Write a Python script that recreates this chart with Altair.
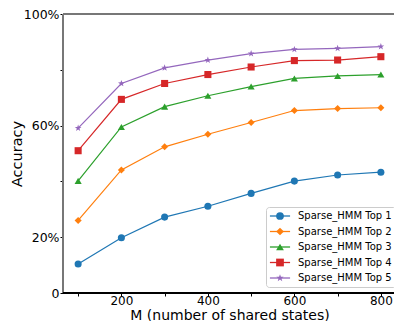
import altair as alt
import pandas as pd

m_values = [100, 200, 300, 400, 500, 600, 700, 800]
series_names = ["Sparse_HMM Top 1", "Sparse_HMM Top 2", "Sparse_HMM Top 3",
                "Sparse_HMM Top 4", "Sparse_HMM Top 5"]
top1 = [10.4, 19.8, 27.2, 31.1, 35.7, 40.1, 42.3, 43.3]
top2 = [26.0, 44.1, 52.4, 56.9, 61.1, 65.4, 66.1, 66.4]
top3 = [40.2, 59.5, 66.8, 70.7, 74.0, 76.9, 77.8, 78.3]
top4 = [51.0, 69.4, 75.1, 78.3, 81.0, 83.3, 83.5, 84.7]
top5 = [59.1, 75.1, 80.7, 83.5, 85.8, 87.3, 87.7, 88.3]
colors = ["#1f77b4", "#ff7f0e", "#2ca02c", "#d62728", "#9467bd"]
shapes = ["circle", "diamond", "triangle-up", "square",
          "M0,-1L0.235,-0.324L0.951,-0.309L0.38,0.124L0.588,0.809L0,0.4L-0.588,0.809L-0.38,0.124L-0.951,-0.309L-0.235,-0.324Z"]

rows = []
for name, vals in zip(series_names, [top1, top2, top3, top4, top5]):
    for m, v in zip(m_values, vals):
        rows.append({"M": m, "acc": v, "series": name})
df = pd.DataFrame(rows)

W, H = 333, 279
font = "DejaVu Sans"
x = alt.X("M:Q", scale=alt.Scale(domain=[65, 835], nice=False, zero=False),
          axis=alt.Axis(values=m_values, title="M (number of shared states)",
                        labelExpr="datum.value % 200 == 0 ? datum.label : ''",
                        grid=False, domain=False, tickSize=3, tickColor="#000",
                        labelFontSize=12, labelFont=font, labelColor="#000",
                        titleFontSize=14, titleFont=font, titleFontWeight="normal",
                        titleColor="#000", titleBaseline="alphabetic", titleY=26,
                        labelPadding=-0.5))
y = alt.Y("acc:Q", scale=alt.Scale(domain=[0, 100], nice=False),
          axis=alt.Axis(values=[0, 20, 40, 60, 80, 100], title="Accuracy",
                        labelExpr="datum.value == 0 ? '0' : (datum.value == 20 || datum.value == 60 || datum.value == 100) ? datum.value + '%' : ''",
                        grid=False, domain=False, tickSize=3, tickColor="#000",
                        labelFontSize=12.5, labelFont=font, labelColor="#000",
                        titleFontSize=14.5, titleFont=font, titleFontWeight="normal",
                        titleColor="#000", titleBaseline="middle", titleX=-46,
                        labelPadding=1))

common_legend = dict(title=None, orient="none", legendX=203, legendY=193,
                     labelFont=font, labelFontSize=10, padding=4,
                     rowPadding=5.5, symbolSize=60, symbolOffset=5, labelOffset=13)

color_lines = alt.Color("series:N", scale=alt.Scale(domain=series_names, range=colors),
                        legend=alt.Legend(symbolType="M-2.6,0L2.6,0", symbolStrokeWidth=1.3,
                                          symbolFillColor="transparent",
                                          labelColor="transparent",
                                          strokeColor="#ccc", cornerRadius=3,
                                          **common_legend))
color_points = alt.Color("series:N", scale=alt.Scale(domain=series_names, range=colors),
                         legend=alt.Legend(symbolStrokeWidth=0, labelColor="#000",
                                           **common_legend))
shape = alt.Shape("series:N", scale=alt.Scale(domain=series_names, range=shapes),
                  legend=alt.Legend(symbolStrokeWidth=0, labelColor="#000", **common_legend))

lines = alt.Chart(df).mark_line(strokeWidth=1.2).encode(
    x=x, y=y, color=color_lines, detail="series:N")
points = alt.Chart(df).mark_point(filled=True, opacity=1, size=50).encode(
    x=x, y=y, color=color_points, shape=shape)

# spines
top_spine = alt.Chart(df).mark_rule(color="#777", strokeWidth=1.5).encode(
    x=alt.value(0), x2=alt.value(W), y=alt.value(0))
left_spine = alt.Chart(df).mark_rule(color="#777", strokeWidth=1.5).encode(
    x=alt.value(0), y=alt.value(0), y2=alt.value(H))
bottom_spine = alt.Chart(df).mark_rule(color="#000", strokeWidth=1.2).encode(
    x=alt.value(0), x2=alt.value(W), y=alt.value(H))

chart = alt.layer(lines, points, top_spine, left_spine, bottom_spine).resolve_legend(
    color="independent", shape="independent"
).properties(
    width=W, height=H,
    autosize=alt.AutoSizeParams(type="none"),
    padding={"left": 55, "top": 6, "right": -2, "bottom": 28},
).configure_view(stroke=None)

chart.save("out.html", embed_options={"renderer": "svg", "actions": False})
